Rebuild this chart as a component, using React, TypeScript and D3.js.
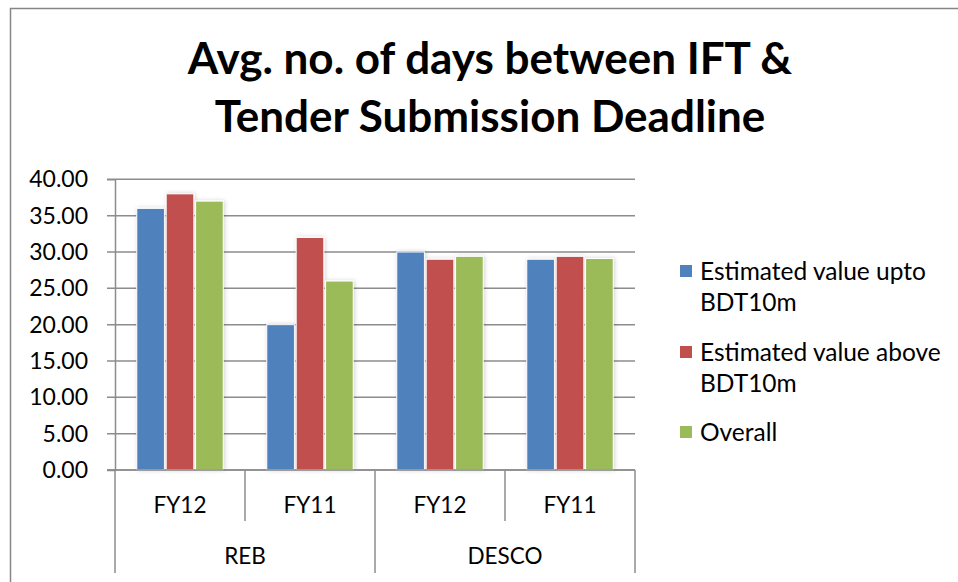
import { useEffect, useRef } from "react";
import * as d3 from "d3";

const groups = ["REB", "DESCO"];
const years = ["FY12", "FY11"];
const seriesNames = [
  "Estimated value upto BDT10m",
  "Estimated value above BDT10m",
  "Overall",
];
const legendLines = [
  ["Estimated value upto", "BDT10m"],
  ["Estimated value above", "BDT10m"],
  ["Overall"],
];
const colors = ["#4F81BD", "#C0504D", "#9BBB59"];
// values per category (REB FY12, REB FY11, DESCO FY12, DESCO FY11)
const uptoValues = [36, 20, 30, 29];
const aboveValues = [38, 32, 29, 29.4];
const overallValues = [37, 26, 29.4, 29.1];
const yTicks = [0, 5, 10, 15, 20, 25, 30, 35, 40];

const W = 958;
const H = 582;
const PLOT = { left: 115, right: 635, top: 179.3, bottom: 470 };
const FONT = "Lato, 'Open Sans', sans-serif";

export default function App() {
  const gRef = useRef<SVGGElement>(null);

  useEffect(() => {
    if (!gRef.current) return;
    const g = d3.select(gRef.current);
    g.selectAll("*").remove();

    const cats = groups.flatMap((gr) => years.map((y) => `${gr}|${y}`));
    const seriesVals = [uptoValues, aboveValues, overallValues];

    const x0 = d3
      .scaleBand<string>()
      .domain(cats)
      .range([PLOT.left, PLOT.right])
      .padding(0);
    const step = x0.bandwidth();
    const groupW = step * 0.665;
    const x1 = d3
      .scaleBand<number>()
      .domain(d3.range(seriesNames.length))
      .range([(step - groupW) / 2, (step + groupW) / 2])
      .paddingInner(0.06);
    const y = d3
      .scaleLinear()
      .domain([0, 40])
      .range([PLOT.bottom, PLOT.top]);

    // outer border
    g.append("path")
      .attr("d", `M10.5,${H} V8.5 H${W}`)
      .attr("fill", "none")
      .attr("stroke", "#868686")
      .attr("stroke-width", 1.5);

    // title
    const title = g
      .append("text")
      .attr("text-anchor", "middle")
      .attr("font-family", FONT)
      .attr("font-weight", 700)
      .attr("font-size", 44)
      .attr("fill", "#000");
    title.append("tspan").attr("x", 490).attr("y", 74).text("Avg. no. of days between IFT &");
    title.append("tspan").attr("x", 490).attr("y", 132).text("Tender Submission Deadline");

    // gridlines
    g.append("g")
      .selectAll("line")
      .data(yTicks)
      .join("line")
      .attr("x1", PLOT.left - 8)
      .attr("x2", PLOT.right)
      .attr("y1", (d) => y(d))
      .attr("y2", (d) => y(d))
      .attr("stroke", "#8c8c8c")
      .attr("stroke-width", 1.5);

    // y axis
    const yAxis = g
      .append("g")
      .attr("transform", `translate(${PLOT.left},0)`)
      .call(
        d3
          .axisLeft(y)
          .tickValues(yTicks)
          .tickFormat((d) => d3.format(".2f")(d as number))
          .tickSize(8)
          .tickPadding(19)
      );
    yAxis.select(".domain").attr("stroke", "#8c8c8c").attr("stroke-width", 1.5);
    yAxis.selectAll(".tick line").attr("stroke", "none");
    yAxis
      .selectAll("text")
      .attr("font-family", FONT)
      .attr("font-size", 23)
      .attr("fill", "#000");

    // bars
    const defs = g.append("defs");
    const f = defs
      .append("filter")
      .attr("id", "shadow")
      .attr("x", "-20%")
      .attr("y", "-10%")
      .attr("width", "140%")
      .attr("height", "120%");
    f.append("feDropShadow")
      .attr("dx", 1)
      .attr("dy", 0)
      .attr("stdDeviation", 2)
      .attr("flood-color", "#000")
      .attr("flood-opacity", 0.18);

    cats.forEach((c, ci) => {
      const cg = g.append("g").attr("transform", `translate(${x0(c)},0)`);
      seriesVals.forEach((vals, si) => {
        cg.append("rect")
          .attr("x", x1(si)!)
          .attr("y", y(vals[ci]))
          .attr("width", x1.bandwidth())
          .attr("height", y(0) - y(vals[ci]))
          .attr("fill", colors[si])
          .attr("stroke", "#fff")
          .attr("stroke-width", 1)
          .attr("filter", "url(#shadow)");
      });
    });

    // x axis line
    g.append("line")
      .attr("x1", PLOT.left - 8)
      .attr("x2", PLOT.right)
      .attr("y1", y(0))
      .attr("y2", y(0))
      .attr("stroke", "#8c8c8c")
      .attr("stroke-width", 1.5);

    // multi-level category axis
    const axisStroke = "#8c8c8c";
    const divs = d3.range(cats.length + 1).map((i) => PLOT.left + i * step);
    divs.forEach((xv, i) => {
      const outer = i % years.length === 0;
      g.append("line")
        .attr("x1", xv)
        .attr("x2", xv)
        .attr("y1", y(0))
        .attr("y2", outer ? 573 : 521)
        .attr("stroke", axisStroke)
        .attr("stroke-width", 1.5);
    });

    g.append("g")
      .selectAll("text")
      .data(cats)
      .join("text")
      .attr("x", (d) => x0(d)! + step / 2)
      .attr("y", 505)
      .attr("dy", "0.35em")
      .attr("text-anchor", "middle")
      .attr("font-family", FONT)
      .attr("font-size", 22.5)
      .text((d) => d.split("|")[1]);

    g.append("g")
      .selectAll("text")
      .data(groups)
      .join("text")
      .attr("x", (d) => x0(`${d}|${years[0]}`)! + step)
      .attr("y", 556)
      .attr("dy", "0.35em")
      .attr("text-anchor", "middle")
      .attr("font-family", FONT)
      .attr("font-size", 22.5)
      .text((d) => d);

    // legend
    const legendY = [271, 352, 432];
    const lg = g.append("g");
    seriesNames.forEach((_, i) => {
      lg.append("rect")
        .attr("x", 680)
        .attr("y", legendY[i] - 6)
        .attr("width", 12)
        .attr("height", 12)
        .attr("fill", colors[i]);
      legendLines[i].forEach((line, li) => {
        lg.append("text")
          .attr("x", 700)
          .attr("y", legendY[i] + li * 31)
          .attr("dy", "0.35em")
          .attr("font-family", FONT)
          .attr("font-size", 24.5)
          .text(line);
      });
    });
  }, []);

  return (
    <svg
      width={W}
      height={H}
      style={{ display: "block", position: "absolute", left: 0, top: 0, background: "#fff" }}
    >
      <g ref={gRef} />
    </svg>
  );
}
